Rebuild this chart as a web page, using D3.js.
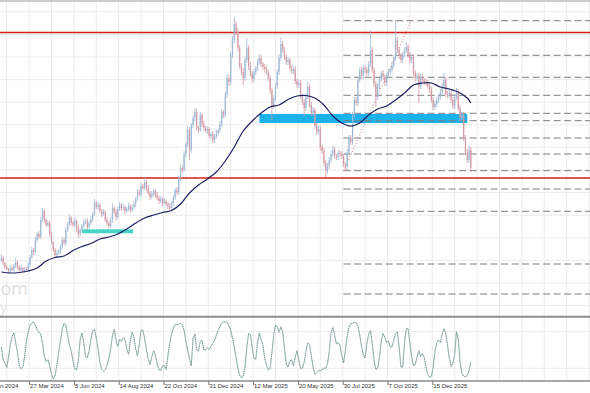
<!DOCTYPE html>
<html>
<head>
<meta charset="utf-8">
<script src="https://cdn.jsdelivr.net/npm/d3@7"></script>
<style>
  body { margin: 0; background: #fff; }
  svg { display: block; }
</style>
</head>
<body>
<svg id="chart" width="590" height="393"></svg>
<script>
// closes, one candle per 2 trading days
const closes = [
  142,137,133,131,129,132,130,134,138,133,
  130,132,129,131,130,135,143,150,148,160,
  166,163,180,189,180,175,177,166,158,150,
  145,147,149,153,160,157,170,176,182,177,
  175,179,172,166,170,174,178,179,173,177,
  181,186,197,193,195,189,186,188,180,177,
  174,180,192,188,183,191,195,192,193,189,
  191,194,190,193,196,201,208,206,214,212,
  218,212,207,203,206,209,205,202,199,201,
  197,199,196,194,192,197,202,210,208,222,
  232,230,246,256,270,250,275,282,288,272,
  270,285,276,272,269,271,264,266,260,264,
  267,270,276,288,285,305,322,318,345,360,
  376,368,352,334,328,322,340,352,334,326,
  321,328,332,338,342,336,333,331,328,322,
  310,294,302,314,328,342,356,350,343,338,
  340,332,329,331,319,315,317,304,298,292,
  304,313,295,287,290,274,268,271,253,249,
  237,229,234,240,246,250,244,243,247,246,
  244,236,233,248,262,258,284,300,297,320,
  330,324,332,330,327,336,350,330,316,303,
  314,321,327,323,317,324,328,330,335,342,
  360,350,344,340,346,350,353,345,340,343,
  327,322,324,314,323,320,318,317,314,310,
  300,293,296,300,303,308,314,320,306,305,
  307,300,294,303,308,292,282,285,262,248,
  240,250,232
];
const firstOpen = 140;

// wick lengths above / below the body
const wickUp = [
  4,2,1,2,1,3,2,2,4,1, 2,3,1,2,2,3,2,3,2,3, 2,3,3,3,2,2,3,2,2,1,
  2,3,2,2,3,2,3,2,3,2, 2,4,2,3,2,2,3,2,3,2, 3,2,4,2,3,2,2,3,2,3,
  2,3,5,2,3,2,3,2,3,2, 2,3,2,2,3,2,3,2,3,2, 4,2,3,2,3,2,2,3,2,3,
  2,3,2,2,3,2,3,2,3,2, 3,2,3,2,4,3,2,3,4,3, 2,3,2,3,2,3,2,2,3,2,
  3,2,3,3,2,3,4,3,3,4, 7,3,4,3,3,4,3,10,3,4, 3,3,2,3,4,3,2,3,3,2,
  3,2,3,3,3,4,7,3,3,3, 3,2,3,3,3,2,3,3,2,3, 3,5,3,3,3,2,3,3,3,2,
  3,3,3,3,3,5,3,2,3,3, 3,2,2,3,3,3,4,3,3,3, 3,3,3,2,3,3,20,3,3,3,
  3,3,2,3,3,3,3,2,3,3, 20,3,3,3,3,3,5,3,3,3, 3,3,3,3,3,3,2,3,3,3,
  3,3,3,3,3,3,3,7,3,3, 3,3,3,3,4,3,3,3,3,3, 3,4,3
];
const wickDn = [
  2,2,2,1,2,2,1,2,2,2, 2,1,2,2,1,2,2,2,3,2, 3,2,2,2,3,2,2,3,2,2,
  2,3,2,3,2,2,3,2,2,3, 2,2,4,4,2,3,2,2,3,2, 2,3,2,2,3,2,3,2,2,3,
  3,2,3,2,3,2,2,3,2,3, 2,2,3,2,2,3,2,2,3,2, 2,3,2,3,2,2,3,2,3,2,
  3,2,2,3,3,2,3,2,3,3, 3,3,2,3,3,10,3,3,3,3, 3,2,3,3,2,3,2,3,3,3,
  3,3,3,3,3,3,3,4,3,3, 3,3,4,3,3,7,3,3,4,3, 4,3,3,3,3,3,3,4,3,3,
  4,14,3,3,3,3,3,3,3,3, 3,3,3,3,3,3,3,3,3,8, 3,3,3,3,3,3,3,3,3,3,
  3,6,3,3,3,3,3,3,3,3, 3,3,4,3,3,3,3,3,3,3, 3,3,3,3,3,3,3,3,3,10,
  3,3,3,3,3,3,3,3,3,3, 3,3,3,3,3,3,3,3,3,3, 3,3,3,17,3,3,3,3,3,3,
  3,3,3,3,3,3,3,3,3,3, 3,3,3,3,3,3,3,3,3,3, 3,3,4
];

// moving average, sampled every 5th candle plus the last one
const maValues = [
  128,127,127.5,129,132,139,142.5,144,149.5,153.5,
  156.5,161,163,166,171,177,182,185,187.5,189.5,
  196,207,215,221,228,239,253,269,279,287,
  293,295,300.5,304,304.5,302,295,284,277,274,
  277,285,291,294,300,307,315,317,317,313,
  311,308,302,297
];

// stochastic oscillator, one value per candle
const stoch = [
  55,34,29,21,38,58,72,78,62,46, 25,19,22,40,64,80,90,94,96,91,
  83,79,76,60,40,31,34,24,10,3, 8,25,46,65,84,94,91,75,58,48,
  33,19,17,33,67,78,63,39,37,49, 68,82,84,69,52,30,18,15,18,25,
  36,52,73,84,66,56,68,64,70,68, 52,43,65,79,71,52,40,60,82,83,
  68,50,35,26,39,49,41,27,17,17, 24,25,18,41,61,76,86,92,92,92,
  94,91,82,64,50,36,24,70,76,50, 48,64,66,50,50,54,51,56,61,66,
  74,82,89,94,96,96,95,90,82,70, 55,38,20,9,4,8,22,55,77,75,
  55,36,35,63,78,67,57,36,25,17, 20,45,75,91,88,79,88,80,53,27,
  22,32,34,24,38,49,33,20,20,30, 48,62,59,40,22,10,13,16,16,18,
  20,20,27,48,78,87,74,60,62,58, 40,29,50,73,88,93,94,95,95,89,
  75,56,42,37,61,76,82,60,33,18, 20,38,65,77,71,62,65,55,55,66,
  77,80,55,22,22,62,85,85,62,38, 24,26,39,49,39,44,38,22,10,5,
  7,22,48,62,66,62,75,85,78,58, 36,23,28,43,80,68,30,12,7,6,
  8,16,30
];

const tickLabels = [
  "17 Jan 2024", "27 Mar 2024", "5 Jun 2024", "14 Aug 2024", "22 Oct 2024",
  "31 Dec 2024", "12 Mar 2025", "20 May 2025", "30 Jul 2025", "7 Oct 2025",
  "15 Dec 2025"
];

const redLevels = [367.5, 222];
const fibLevels = [379.3, 344.7, 322.7, 304.7, 286.7, 279.3, 262, 246, 229.3, 211, 188.7, 136, 106];
const fibSwing = { fromBar: 401, fromPrice: 229, toBar: 477, toPrice: 380 };
const blueZone = { fromBar: 307, toBar: 539, top: 286, bottom: 277 };
const tealZone = { fromBar: 109, toBar: 166, top: 170.7, bottom: 166.7 };

const firstBar = 18;      // bar of the first candle
const barsPerCandle = 2;
const labelEvery = 50;
const gridEvery = 25;

// layout
const W = 590, H = 393;
const mainTop = 1.5, mainBottom = 316;
const oscTop = 318, oscBottom = 381;

const svg = d3.select('#chart');
svg.append('rect').attr('width', W).attr('height', H).attr('fill', '#fff');

const x = d3.scaleLinear().domain([0, 675]).range([-15.7, 589.1]);
const y = d3.scaleLinear().domain([84, 400]).range([316, 0]);
const yOsc = d3.scaleLinear().domain([0, 100]).range([380.5, 319.5]);

const defs = svg.append('defs');
defs.append('clipPath').attr('id', 'clipMain')
  .append('rect').attr('x', 0).attr('y', mainTop).attr('width', W).attr('height', mainBottom - mainTop);
defs.append('clipPath').attr('id', 'clipOsc')
  .append('rect').attr('x', 0).attr('y', oscTop).attr('width', W).attr('height', oscBottom - oscTop);

const candleBar = i => firstBar + barsPerCandle * i + barsPerCandle / 2;

// grid
const gridBars = d3.range(0, 676, gridEvery);
const grid = svg.append('g').attr('stroke', '#ebebeb').attr('stroke-width', 1);
grid.selectAll('line.v').data(gridBars).enter().append('line')
  .attr('x1', d => x(d)).attr('x2', d => x(d))
  .attr('y1', mainTop).attr('y2', oscBottom);
grid.selectAll('line.h').data(d3.range(388.2, 84, -22.6)).enter().append('line')
  .attr('x1', 0).attr('x2', W)
  .attr('y1', d => y(d)).attr('y2', d => y(d));
grid.selectAll('line.o').data([20, 80]).enter().append('line')
  .attr('x1', 0).attr('x2', W)
  .attr('y1', d => yOsc(d)).attr('y2', d => yOsc(d));

// watermark (only its right end shows)
svg.append('text').attr('x', 0.5).attr('y', 295)
  .attr('font-family', 'Open Sans, sans-serif').attr('font-size', 18)
  .attr('fill', '#dedede').text('om');
svg.append('text').attr('x', 0).attr('y', 312)
  .attr('font-family', 'Open Sans, sans-serif').attr('font-size', 14)
  .attr('fill', '#e6e6e6').text('y');

const main = svg.append('g').attr('clip-path', 'url(#clipMain)');

// zones
[blueZone, tealZone].forEach((z, k) => {
  main.append('rect')
    .attr('x', x(z.fromBar)).attr('width', x(z.toBar) - x(z.fromBar))
    .attr('y', y(z.top)).attr('height', y(z.bottom) - y(z.top))
    .attr('fill', k === 0 ? '#1bb2ec' : '#45d4c6');
});

// fibonacci levels
main.selectAll('line.fib').data(fibLevels).enter().append('line')
  .attr('x1', x(fibSwing.fromBar)).attr('x2', W)
  .attr('y1', d => y(d)).attr('y2', d => y(d))
  .attr('stroke', '#7c7c7c').attr('stroke-width', 1)
  .attr('stroke-dasharray', '7,3.5');

main.append('line')
  .attr('x1', x(fibSwing.fromBar)).attr('y1', y(fibSwing.fromPrice))
  .attr('x2', x(fibSwing.toBar)).attr('y2', y(fibSwing.toPrice))
  .attr('stroke', '#c77c7c').attr('stroke-width', 1)
  .attr('stroke-dasharray', '1,2');

// red levels
main.selectAll('line.red').data(redLevels).enter().append('line')
  .attr('x1', 0).attr('x2', W)
  .attr('y1', d => y(d)).attr('y2', d => y(d))
  .attr('stroke', '#d41e1e').attr('stroke-width', 1.5);

// candles
const candles = closes.map((c, i) => {
  const o = i === 0 ? firstOpen : closes[i - 1];
  return { i, o, c, h: Math.max(o, c) + wickUp[i], l: Math.min(o, c) - wickDn[i] };
});
const upColor = '#9fbad6', downColor = '#d39ba5';
const cg = main.append('g');
cg.selectAll('line.wick').data(candles).enter().append('line')
  .attr('x1', d => x(candleBar(d.i))).attr('x2', d => x(candleBar(d.i)))
  .attr('y1', d => y(d.h)).attr('y2', d => y(d.l))
  .attr('stroke', d => d.c >= d.o ? upColor : downColor)
  .attr('stroke-width', 0.8);
cg.selectAll('rect.body').data(candles).enter().append('rect')
  .attr('x', d => x(candleBar(d.i)) - 0.6).attr('width', 1.2)
  .attr('y', d => y(Math.max(d.o, d.c)))
  .attr('height', d => Math.max(0.8, Math.abs(y(d.o) - y(d.c))))
  .attr('fill', d => d.c >= d.o ? upColor : downColor);

// moving average
const maIdx = d3.range(0, 261, 5).concat([closes.length - 1]);
const maLine = d3.line()
  .x((d, k) => x(candleBar(maIdx[k])))
  .y(d => y(d))
  .curve(d3.curveCatmullRom);
main.append('path').datum(maValues)
  .attr('d', maLine)
  .attr('fill', 'none').attr('stroke', '#1c1f62').attr('stroke-width', 1.2);

// oscillator
const osc = svg.append('g').attr('clip-path', 'url(#clipOsc)');
const oscLine = d3.line().x((d, i) => x(candleBar(i))).y(d => yOsc(d));
osc.append('path').datum(stoch).attr('d', oscLine)
  .attr('fill', 'none').attr('stroke', '#a6d4ce').attr('stroke-width', 1);
osc.append('path').datum(stoch).attr('d', oscLine)
  .attr('fill', 'none').attr('stroke', '#858585').attr('stroke-width', 0.9)
  .attr('stroke-dasharray', '1,1');

// frame lines
svg.append('line').attr('x1', 0).attr('x2', W).attr('y1', 1).attr('y2', 1)
  .attr('stroke', '#9a9a9a').attr('stroke-width', 1);
svg.append('line').attr('x1', 0).attr('x2', W).attr('y1', 316.8).attr('y2', 316.8)
  .attr('stroke', '#8c8c8c').attr('stroke-width', 2);

// x axis
const xAxis = d3.axisBottom(x)
  .tickValues(tickLabels.map((t, k) => k * labelEvery))
  .tickFormat((d, k) => tickLabels[k])
  .tickSize(4).tickSizeOuter(0);
const ax = svg.append('g').attr('transform', 'translate(0,' + oscBottom + ')').call(xAxis);
ax.select('.domain').attr('d', 'M0,0H' + W).attr('stroke', '#8c8c8c').attr('stroke-width', 1.5);
ax.selectAll('.tick line').attr('stroke', '#777');
ax.selectAll('.tick text')
  .attr('text-anchor', 'start').attr('x', 0.5).attr('y', 3)
  .attr('dy', '0.71em')
  .attr('font-family', 'Liberation Sans, Arial, sans-serif')
  .attr('font-size', 6).attr('fill', '#333');
</script>
</body>
</html>
